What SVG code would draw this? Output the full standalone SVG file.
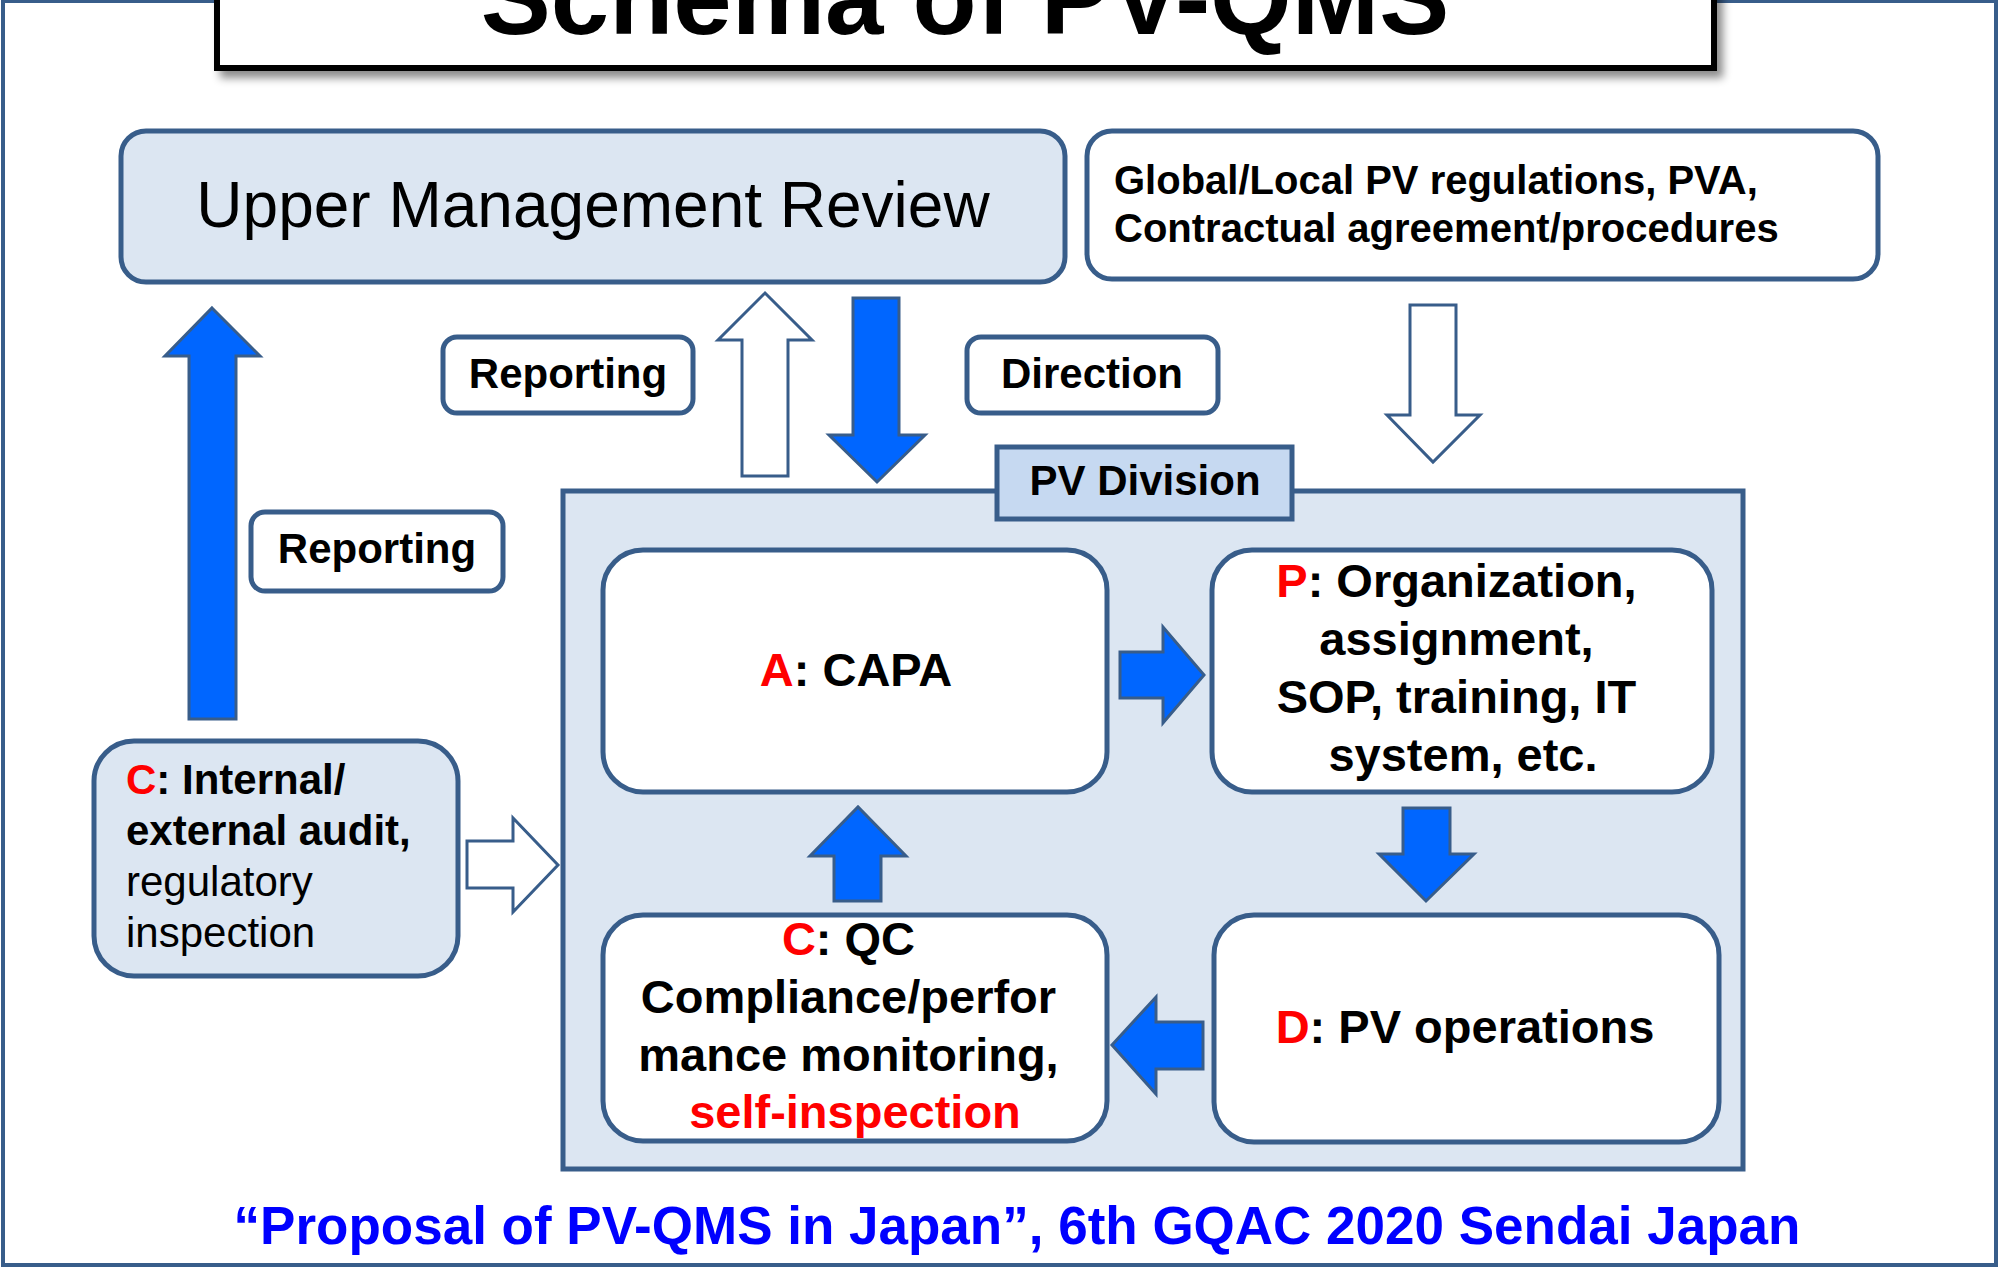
<svg xmlns="http://www.w3.org/2000/svg" width="2000" height="1267" viewBox="0 0 2000 1267">
  <defs>
    <filter id="shadow" x="-5%" y="-20%" width="115%" height="160%">
      <feDropShadow dx="6" dy="7" stdDeviation="4" flood-color="#000" flood-opacity="0.45"/>
    </filter>
    <style>
      .frame { fill: #fff; stroke: #385D8A; stroke-width: 4; }
      .box { stroke: #385D8A; stroke-width: 5; }
      .pale { fill: #DCE6F2; }
      .white { fill: #fff; }
      .tab { fill: #C6D9F1; stroke: #385D8A; stroke-width: 5; }
      .solid { fill: #0066FF; stroke: #385D8A; stroke-width: 3; stroke-linejoin: miter; }
      .hollow { fill: #fff; stroke: #385D8A; stroke-width: 3; stroke-linejoin: miter; }
      text { font-family: "Liberation Sans", Arial, sans-serif; fill: #000; }
      .b { font-weight: bold; }
      .red { fill: #FF0000; }
      .mid { text-anchor: middle; }
    </style>
  </defs>

  <!-- outer frame -->
  <rect class="frame" x="3" y="1" width="1993" height="1264"/>

  <!-- title -->
  <g id="title">
    <rect x="217" y="-20" width="1497" height="88" fill="#fff" stroke="#000" stroke-width="6" filter="url(#shadow)"/>
    <text class="b mid" x="965" y="34" font-size="105">Schema of PV-QMS</text>
  </g>

  <!-- nodes -->
  <g id="upper-management">
    <rect class="box pale" x="121" y="131" width="944" height="151" rx="25"/>
    <text class="mid" x="593" y="227" font-size="64">Upper Management Review</text>
  </g>

  <g id="regulations">
    <rect class="box white" x="1087" y="131" width="791" height="148" rx="25"/>
    <text class="b" x="1114" y="194" font-size="40">Global/Local PV regulations, PVA,</text>
    <text class="b" x="1114" y="242" font-size="40">Contractual agreement/procedures</text>
  </g>

  <g id="label-reporting-top">
    <rect class="box white" x="443" y="337" width="250" height="76" rx="14"/>
    <text class="b mid" x="568" y="388" font-size="42">Reporting</text>
  </g>

  <g id="label-direction">
    <rect class="box white" x="967" y="337" width="251" height="76" rx="14"/>
    <text class="b mid" x="1092" y="388" font-size="42">Direction</text>
  </g>

  <g id="label-reporting-left">
    <rect class="box white" x="251" y="512" width="252" height="79" rx="14"/>
    <text class="b mid" x="377" y="563" font-size="42">Reporting</text>
  </g>

  <g id="pv-division">
    <rect class="box pale" x="563" y="491" width="1180" height="678"/>
    <rect class="tab" x="997" y="447" width="295" height="72"/>
    <text class="b mid" x="1145" y="495" font-size="42">PV Division</text>
  </g>

  <g id="act-capa">
    <rect class="box white" x="603" y="550" width="504" height="242" rx="40"/>
    <text class="b mid" x="856" y="686" font-size="47"><tspan class="red">A</tspan>: CAPA</text>
  </g>

  <g id="plan">
    <rect class="box white" x="1212" y="550" width="500" height="242" rx="40"/>
    <text class="b mid" font-size="47">
      <tspan x="1463" y="597"><tspan class="red">P</tspan>: Organization,</tspan>
      <tspan x="1463" y="655">assignment,</tspan>
      <tspan x="1463" y="713">SOP, training, IT</tspan>
      <tspan x="1463" y="771">system, etc.</tspan>
    </text>
  </g>

  <g id="do-operations">
    <rect class="box white" x="1214" y="915" width="505" height="227" rx="40"/>
    <text class="b mid" x="1465" y="1043" font-size="47"><tspan class="red">D</tspan>: PV operations</text>
  </g>

  <g id="check-qc">
    <rect class="box white" x="603" y="915" width="504" height="226" rx="40"/>
    <text class="b mid" font-size="47">
      <tspan x="855" y="955"><tspan class="red">C</tspan>: QC</tspan>
      <tspan x="855" y="1013">Compliance/perfor</tspan>
      <tspan x="855" y="1071">mance monitoring,</tspan>
      <tspan x="855" y="1128" class="red">self-inspection</tspan>
    </text>
  </g>

  <g id="check-audit">
    <rect class="box pale" x="94" y="741" width="364" height="235" rx="40"/>
    <text font-size="42">
      <tspan x="126" y="794" class="b"><tspan class="red">C</tspan>: Internal/</tspan>
      <tspan x="126" y="845" class="b">external audit,</tspan>
      <tspan x="126" y="896">regulatory</tspan>
      <tspan x="126" y="947">inspection</tspan>
    </text>
  </g>

  <!-- connectors: block arrows -->
  <g id="connectors">
    <!-- audit reporting up to management -->
    <path class="solid" d="M212,308 L260,356 L236,356 L236,719 L189,719 L189,356 L165,356 Z"/>
    <!-- division reporting up -->
    <path class="hollow" d="M765,293 L812,340 L788,340 L788,476 L742,476 L742,340 L718,340 Z"/>
    <!-- management direction down -->
    <path class="solid" d="M853,298 L899,298 L899,435 L925,435 L877,482 L829,435 L853,435 Z"/>
    <!-- regulations down -->
    <path class="hollow" d="M1410,305 L1456,305 L1456,415 L1480,415 L1433,462 L1387,415 L1410,415 Z"/>
    <!-- A to P -->
    <path class="solid" d="M1120,652 L1163,652 L1163,627 L1204,675 L1163,723 L1163,698 L1120,698 Z"/>
    <!-- P to D -->
    <path class="solid" d="M1403,808 L1450,808 L1450,854 L1474,854 L1426,901 L1379,854 L1403,854 Z"/>
    <!-- D to C -->
    <path class="solid" d="M1203,1022 L1203,1069 L1156,1069 L1156,1094 L1112,1045 L1156,997 L1156,1022 Z"/>
    <!-- C to A -->
    <path class="solid" d="M834,901 L834,856 L810,856 L858,807 L906,856 L881,856 L881,901 Z"/>
    <!-- audit into division -->
    <path class="hollow" d="M467,841 L513,841 L513,818 L558,865 L513,912 L513,888 L467,888 Z"/>
  </g>

  <!-- source line -->
  <text class="b mid" x="1017" y="1244" font-size="53" fill="#0000FF" style="fill:#0000FF">“Proposal of PV-QMS in Japan”, 6th GQAC 2020 Sendai Japan</text>
</svg>
